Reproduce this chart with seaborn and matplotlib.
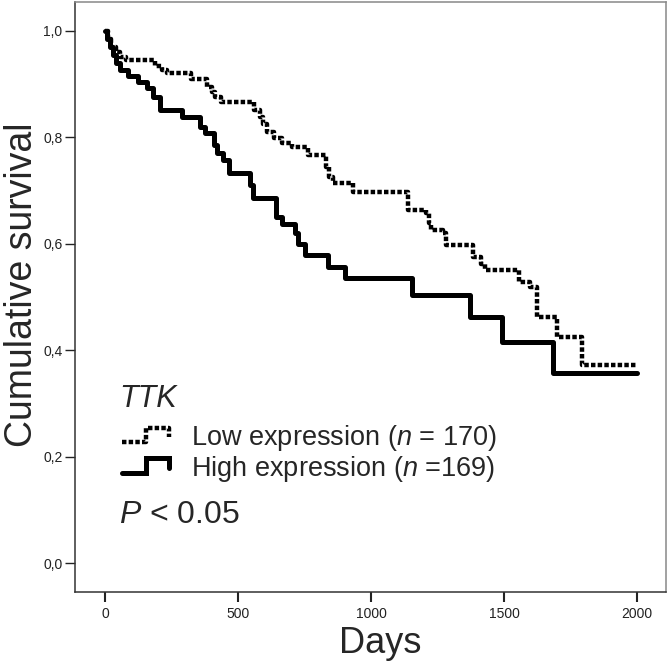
import numpy as np
import pandas as pd
import seaborn as sns
import matplotlib.pyplot as plt
from matplotlib.lines import Line2D
from matplotlib.legend_handler import HandlerLine2D

# Kaplan-Meier steps: (day of drop, survival after drop)
low_days = [0, 11, 23, 41, 56, 79, 188, 214, 233, 323, 383, 402, 414, 436,
            560, 583, 594, 609, 635, 665, 703, 763, 831, 842, 857, 932,
            1139, 1207, 1218, 1225, 1270, 1282, 1383, 1413, 1428, 1556,
            1598, 1624, 1699, 1793, 2000]
low_surv = [1.0, 0.985, 0.97, 0.96, 0.951, 0.945, 0.935, 0.927, 0.921, 0.91,
            0.895, 0.885, 0.876, 0.867, 0.852, 0.838, 0.825, 0.81, 0.799,
            0.789, 0.782, 0.767, 0.745, 0.725, 0.714, 0.697, 0.664, 0.658,
            0.64, 0.626, 0.62, 0.598, 0.575, 0.562, 0.551, 0.528, 0.519,
            0.462, 0.425, 0.372, 0.372]

high_days = [0, 8, 19, 30, 41, 56, 86, 124, 158, 180, 207, 289, 357, 376,
             410, 421, 444, 466, 545, 556, 643, 665, 714, 725, 752, 838,
             902, 1154, 1372, 1492, 1684, 2000]
high_surv = [1.0, 0.985, 0.97, 0.955, 0.94, 0.927, 0.915, 0.905, 0.893,
             0.875, 0.852, 0.838, 0.82, 0.808, 0.785, 0.77, 0.757, 0.733,
             0.71, 0.686, 0.65, 0.638, 0.62, 0.6, 0.579, 0.556, 0.535,
             0.504, 0.463, 0.416, 0.357, 0.357]

group_labels = ['Low expression ($n$ = 170)', 'High expression ($n$ =169)']
x_ticks = [0, 500, 1000, 1500, 2000]
y_ticks = [0.0, 0.2, 0.4, 0.6, 0.8, 1.0]
y_ticklabels = ['0,0', '0,2', '0,4', '0,6', '0,8', '1,0']

low = pd.DataFrame({'day': low_days, 'surv': low_surv})
high = pd.DataFrame({'day': high_days, 'surv': high_surv})

sns.set_style('ticks')
plt.rcParams['font.family'] = ['Liberation Sans', 'DejaVu Sans']
plt.rcParams['mathtext.fontset'] = 'custom'
plt.rcParams['mathtext.rm'] = 'Liberation Sans'
plt.rcParams['mathtext.it'] = 'Liberation Sans:italic'

W, H = 669, 662
fig = plt.figure(figsize=(W / 100, H / 100), dpi=100)
ax = fig.add_axes([75 / W, 1 - 592 / H, 591 / W, 590 / H])

sns.lineplot(data=low, x='day', y='surv', ax=ax, color='black', lw=3.2,
             dashes=(1.0, 0.5), drawstyle='steps-post', estimator=None,
             sort=False, label=group_labels[0])
sns.lineplot(data=high, x='day', y='surv', ax=ax, color='black', lw=3.6,
             drawstyle='steps-post', estimator=None, sort=False,
             label=group_labels[1])

ax.set_xlim(-113, 2109)
ax.set_ylim(-0.0545, 1.0545)
ax.set_xticks(x_ticks)
ax.set_yticks(y_ticks)
ax.set_yticklabels(y_ticklabels)
ax.tick_params(axis='x', length=7, width=1.5, labelsize=10, colors='#222222', pad=4)
ax.tick_params(axis='y', length=7, width=1.0, labelsize=10, colors='#222222', pad=2)

for side in ['left', 'bottom']:
    ax.spines[side].set_color('#333333')
    ax.spines[side].set_linewidth(1.1)
for side in ['top', 'right']:
    ax.spines[side].set_color('#888888')
    ax.spines[side].set_linewidth(1.1)

ax.set_xlabel('Days', fontsize=26)
ax.set_ylabel('Cumulative survival', fontsize=27)
ax.xaxis.set_label_coords(0.516, -0.058)
ax.yaxis.set_label_coords(-0.06, 0.52)


class StepHandler(HandlerLine2D):
    def create_artists(self, legend, orig_handle, xdescent, ydescent,
                       width, height, fontsize, trans):
        x0 = -xdescent
        y0 = -ydescent
        xs = x0 + width * np.array([0, 0.5, 0.5, 1.0, 1.0])
        ys = y0 + height * np.array([0.15, 0.15, 0.9, 0.9, 0.4])
        line = Line2D(xs, ys)
        self.update_prop(line, orig_handle, legend)
        line.set_drawstyle('default')
        line.set_transform(trans)
        line.set_solid_joinstyle('miter')
        return [line]


handles, labels = ax.get_legend_handles_labels()
leg = ax.legend(handles, labels, loc='upper left',
                bbox_to_anchor=(122 / W, 1 - 423 / H), bbox_transform=fig.transFigure,
                frameon=False, fontsize=19.5, handlelength=1.75, handletextpad=0.8,
                labelspacing=0.02, borderpad=0, borderaxespad=0,
                handler_map={Line2D: StepHandler()})

fig.text(119 / W, 1 - 407 / H, 'TTK', fontsize=22, style='italic', va='baseline')
fig.text(119 / W, 1 - 523 / H, '$P$ < 0.05', fontsize=23, va='baseline')

fig.savefig('out.png', dpi=100)
